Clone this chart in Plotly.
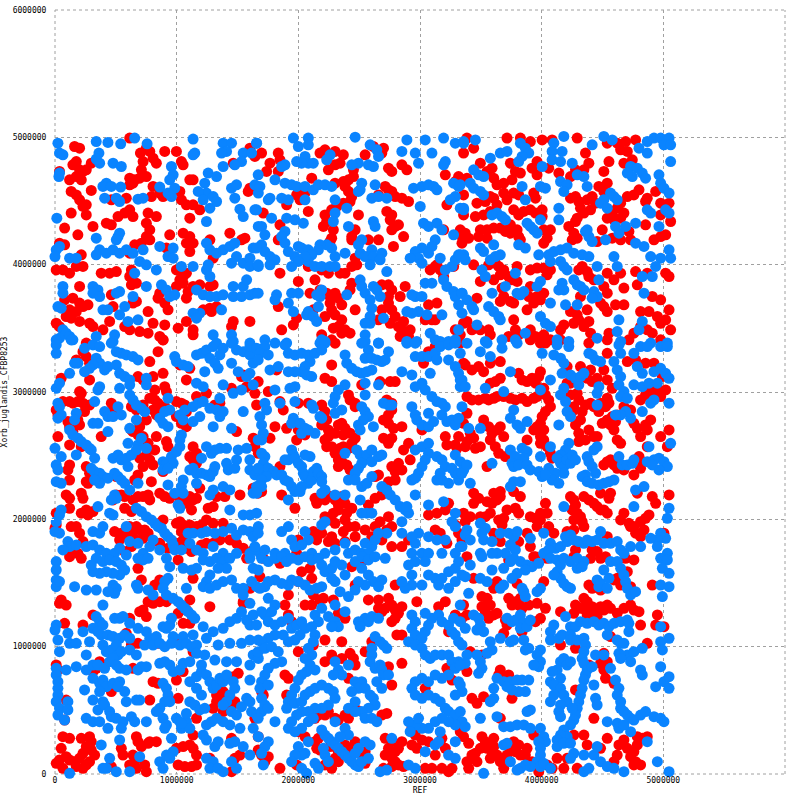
import plotly.graph_objects as go

# hit positions in kb: (REF, Xorb_juglandis_CFBP8253)
# forward hits (red) in three bands
fwd_top = [
    (161,4928),(202,4915),(614,4994),(702,4876),(751,4915),(779,4889),(806,4836),(833,4797),(902,4889),(998,4889),
    (1039,4810),(1053,4784),(1108,4666),(1135,4666),(724,4810),(710,4745),(298,4797),(175,4810),(147,4784),(202,4745),
    (230,4732),(257,4745),(175,4692),(120,4666),(37,4732),(216,4666),(133,4575),(175,4548),(202,4509),(257,4470),
    (298,4583),(230,4457),(614,4679),(655,4666),(696,4679),(751,4692),(614,4627),(641,4640),(792,4535),(861,4562),
    (888,4535),(806,4614),(1026,4575),(1039,4509),(1080,4470),(1135,4470),(586,4522),(463,4509),(614,4431),(573,4405),
    (641,4378),(518,4378),(765,4405),(833,4378),(751,4326),(779,4274),(751,4221),(710,4169),(655,4156),(614,4090),
    (779,4195),(133,4405),(257,4391),(463,4313),(312,4300),(79,4287),(188,4234),(422,4326),(37,4169),(79,4156),
    (216,4077),(943,4234),(916,4130),(1053,4247),(1108,4221),(1080,4169),(1135,4169),(1108,4103),(1190,4431),(1108,4365),
    (1273,4195),(1300,4051),(1437,4247),(1533,4195),(1561,4208),(1602,4601),(1588,4575),(1643,4850),(1602,4915),(1465,4797),
    (10,3959),(65,3959),(120,3933),(175,3986),(230,3986),(380,3933),(449,3933),(504,3946),(628,3959),(614,3907),
    (628,3842),(669,3855),(998,3959),(1053,3907),(1053,3855),(1080,3933),(998,3829),(1026,3881),(202,3829),(861,3776),
    (902,3698),(929,3645),(847,3737),(1094,3789),(1135,3829),(1080,3737),(1190,3842),(1273,3829),(1300,3842),(79,3724),
    (147,3737),(202,3698),(230,3671),(271,3685),(120,3645),(175,3632),(92,3593),(133,3580),(463,3763),(477,3671),
    (641,3698),(669,3711),(765,3632),(1218,3645),(1273,3658),(1328,3671),(1286,3632),(10,3540),(37,3514),(202,3554),
    (284,3540),(312,3514),(449,3554),(573,3514),(614,3488),(696,3475),(765,3462),(806,3540),(902,3527),(1012,3501),
    (861,3436),(888,3410),(1080,3554),(1135,3488),(1135,3449),(1465,3554),(1451,3514),(1602,3554),(394,3488),(257,3384),
    (1835,4876),(1849,4823),(1767,4797),(1739,4732),(1835,4732),(1698,4876),(2178,4876),(2219,4902),(2302,4889),(2370,4863),
    (2343,4797),(2302,4784),(2247,4745),(2549,4863),(2617,4928),(2700,4915),(2686,4876),(2453,4745),(2453,4692),(2412,4666),
    (2370,4653),(2302,4640),(2741,4758),(2768,4732),(2851,4784),(2892,4745),(2110,4679),(2000,4575),(1986,4548),(2014,4509),
    (2055,4562),(1904,4470),(2384,4614),(2412,4575),(2439,4535),(2425,4496),(2398,4457),(2370,4483),(2316,4457),(2274,4431),
    (2219,4391),(2233,4339),(2206,4300),(2288,4274),(2494,4391),(2467,4274),(2439,4221),(2714,4614),(2741,4588),(2768,4575),
    (2796,4535),(2851,4522),(2906,4496),(2659,4548),(2727,4418),(2768,4391),(2755,4352),(2796,4300),(2823,4313),(2768,4274),
    (2865,4221),(2782,4143),(2082,4418),(1849,4313),(1712,4405),(1835,4195),(2274,4208),(2261,4182),(2439,4195),(2467,4051),
    (2480,3999),(2439,3986),(2384,3933),(2343,3933),(2247,3933),(2192,3959),(2082,3986),(2576,4195),(2659,4195),(2576,4064),
    (2837,3750),(2878,3829),(2741,3842),(2768,3802),(2741,3750),(2741,3698),(2768,3645),(2796,3593),(2755,3540),(2823,3514),
    (2851,3488),(2837,3436),(2686,3842),(2686,3645),(2659,3567),(3208,4706),(3317,4692),(3290,4653),(3221,4470),(3194,4274),
    (3345,4221),(3331,4274),(3139,3999),(3125,3986),(3166,3959),(3084,3959),(3194,3907),(3276,3986),(1849,3933),(2000,3868),
    (2137,3881),(2178,3802),(2233,3776),(2261,3750),(2302,3776),(2329,3737),(2261,3698),(2274,3645),(2302,3606),(2357,3685),
    (2439,3855),(2425,3802),(2467,3645),(2357,3567),(2384,3488),(2425,3462),(2357,3462),(2329,3514),(2288,3501),(2219,3593),
    (2096,3776),(2123,3645),(1835,3671),(1986,3580),(1959,3527),(1863,3488),(2274,3410),(2192,3449),(2192,3384),(3070,3685),
    (3139,3698),(3043,3567),(3098,3567),(3125,3567),(2865,3554),(2919,3488),(2906,3436),(3331,3449),(3290,3488),(3331,3384),
    (3358,4876),(3441,4915),(3386,4994),(3715,4994),(3825,4994),(3907,4967),(4004,4980),(4086,4980),(4292,4994),(4360,4876),
    (4388,4797),(4347,4745),(4278,4745),(4237,4692),(4141,4719),(4058,4758),(3962,4810),(3921,4758),(3962,4706),(3743,4797),
    (3784,4732),(3756,4666),(3825,4719),(3551,4732),(3592,4758),(3606,4679),(3688,4640),(3633,4627),(3688,4562),(3715,4509),
    (3770,4562),(3811,4548),(3935,4562),(3949,4522),(3496,4797),(3386,4679),(3358,4548),(4553,4810),(4539,4954),(4621,4954),
    (4690,4967),(4649,4902),(4704,4889),(4772,4980),(4676,4797),(4745,4823),(4511,4732),(4470,4614),(4511,4575),(4539,4640),
    (4237,4522),(4278,4535),(4305,4496),(4319,4444),(4374,4509),(4415,4535),(4443,4483),(4402,4431),(4347,4405),(4292,4365),
    (4278,4339),(4223,4300),(4264,4247),(4292,4208),(4251,4195),(4621,4444),(4649,4483),(4676,4405),(4649,4365),(4594,4352),
    (4580,4391),(4704,4535),(4758,4548),(4800,4588),(4854,4496),(4868,4522),(4937,4575),(5047,4483),(4978,4483),(3468,4483),
    (3537,4496),(3578,4535),(3606,4522),(3633,4470),(3578,4418),(3523,4391),(3455,4378),(3358,4391),(3770,4431),(3811,4391),
    (3853,4418),(3907,4431),(3949,4405),(4004,4431),(4004,4378),(3743,4313),(3798,4274),(3743,4247),(3811,4221),(3825,4195),
    (3702,4261),(3660,4287),(3606,4287),(3551,4274),(3551,4208),(3496,4274),(3372,4247),(3400,4208),(3345,4169),(3482,4221),
    (4017,4274),(4072,4274),(4045,4208),(4017,4169),(4717,4261),(4731,4195),(4649,4195),(4580,4208),(4456,4182),(4854,4313),
    (4923,4195),(4978,4221),(5019,4234),(5060,4339),(4978,4391),(4539,4365),(4498,4274),(3441,3999),(3564,3999),(3619,4012),
    (3647,3986),(3688,3959),(3729,3907),(3756,3881),(3660,3920),(3606,3881),(3798,3986),(3907,3959),(3962,3973),(4017,3973),
    (4072,3959),(4045,3920),(3907,3829),(3962,3750),(4017,3776),(3798,3868),(4305,3959),(4333,3986),(4374,3946),(4388,3907),
    (4429,3881),(4511,3829),(4539,3933),(4594,3881),(4649,3933),(4676,3816),(4539,3776),(4484,3698),(4511,3671),(4539,3632),
    (4607,3685),(4676,3685),(4374,3645),(4388,3554),(4347,3514),(4305,3567),(4292,3606),(4264,3540),(4772,3946),(4868,3933),
    (4786,3842),(5019,3933),(5047,3907),(4909,3750),(4978,3724),(5047,3645),(4813,3632),(4882,3632),(4951,3593),(4978,3540),
    (5019,3567),(4868,3488),(4813,3514),(5060,3488),(3358,3540),(3386,3554),(3427,3488),(3496,3488),(3564,3488),(3578,3449),
    (3770,3567),(3784,3488),(3811,3449),(3729,3436),(3894,3750),(3935,3698),(3990,3724),(3880,3645),(3907,3488),(3949,3436),
    (3907,3410),(4017,3449),(4072,3410),(4031,3384),(4155,3488),(4182,3527),(4155,3410),(4237,3632),(4319,3750),(3660,3711),
    (3688,3750),(3770,3698),(3743,3711),(3674,3816),(3496,3868),(3468,3737),(4402,3462),(4539,3410),(4553,3462),(4717,3410),
    (4758,3462),(4978,3410),(4909,3462),
]

fwd_mid = [
    (888,3409),(230,3317),(257,3278),(284,3226),(175,3252),(779,3239),(847,3317),(284,3095),(51,3108),(202,3003),
    (216,2990),(682,3121),(724,3095),(806,3121),(888,3147),(902,3042),(916,3003),(820,3016),(1080,3095),(1026,3213),
    (1108,3186),(1533,3121),(1547,3134),(1575,3042),(1643,2990),(1451,3029),(65,2925),(120,2925),(147,2912),(188,2925),
    (230,2912),(284,2898),(10,2859),(24,2820),(243,2846),(463,2912),(477,2859),(628,2885),(669,2859),(724,2898),
    (779,2951),(820,2938),(847,2912),(875,2885),(902,2885),(806,2859),(833,2820),(751,2781),(696,2728),(998,2925),
    (1039,2912),(1067,2898),(1080,2846),(998,2807),(1039,2754),(1080,2728),(1163,2964),(1245,2990),(1314,2898),(1355,2912),
    (1657,2898),(106,2768),(120,2728),(147,2689),(188,2781),(202,2741),(380,2650),(24,2650),(120,2584),(216,2571),
    (628,2702),(641,2689),(682,2663),(724,2650),(765,2597),(833,2650),(820,2545),(916,2611),(929,2571),(696,2480),
    (724,2414),(751,2506),(779,2467),(806,2427),(1492,2689),(1629,2637),(1643,2571),(1671,2519),(1135,2571),(1163,2519),
    (1108,2493),(1135,2467),(1163,2440),(120,2427),(106,2388),(257,2414),(284,2362),(120,2309),(655,2309),(682,2349),
    (257,2296),(271,2283),(504,2336),(792,2296),(888,2375),(92,2192),(120,2165),(216,2205),(230,2165),(120,2087),
    (216,2048),(271,2035),(257,2074),(312,2061),(477,2152),(504,2192),(545,2192),(573,2179),(641,2152),(682,2179),
    (724,2179),(765,2192),(779,2152),(861,2205),(902,2179),(943,2165),(1026,2165),(1080,2126),(1108,2179),(1135,2152),
    (1163,2165),(1122,2074),(1190,2244),(1259,2087),(1300,2100),(1328,2179),(1396,2179),(1520,2192),(1629,2244),(1671,2257),
    (573,2087),(628,2061),(10,2048),(0,1930),(10,1956),(133,1943),(175,1943),(230,1825),(202,1891),(120,1733),
    (188,1733),(490,1904),(545,1891),(573,1904),(586,1864),(614,1943),(641,1904),(669,1943),(696,1917),(737,1917),
    (765,1891),(724,1851),(531,1838),(669,1838),(628,1786),(573,1747),(861,1969),(888,1995),(998,1969),(1026,1982),
    (1053,1956),(1039,1904),(1080,1930),(1108,1956),(1163,1943),(1204,1956),(1245,1995),(1300,1969),(1382,1969),(1053,1838),
    (998,1812),(929,1773),(861,1812),(1080,1773),(1122,1747),(1204,1799),(1245,1812),(1300,1812),(1355,1838),(1437,1838),
    (1492,1812),(1547,1773),(1629,1760),
    (2302,3383),(1821,3173),(1670,3082),(1753,3003),(1849,2925),(1876,2859),(2000,2912),(2082,2912),(2192,2898),(2219,2846),
    (2233,2781),(2192,2741),(2247,2702),(2329,2741),(2357,2754),(2384,2715),(2302,2676),(2247,2650),(2219,2624),(2370,2663),
    (2425,2676),(2467,2637),(2439,2597),(2412,2558),(2370,2571),(2274,2571),(2233,2571),(2343,2558),(2412,2977),(2425,2938),
    (2467,2912),(2467,2885),(2302,2519),(2329,2467),(2329,2414),(2357,2453),(2398,2427),(2425,2388),(2274,3213),(2219,3108),
    (2274,3082),(2521,3056),(2672,3082),(2755,3082),(2796,3082),(2727,2938),(2768,2912),(2768,2859),(2741,2820),(2700,2781),
    (2741,2754),(2782,2715),(2851,2728),(2700,2637),(2768,2637),(2741,2597),(2906,2597),(2865,2545),(2919,2467),(2823,2440),
    (2768,2414),(2796,2375),(2851,2388),(2796,2309),(2741,2296),(2631,2336),(2659,2349),(3016,2702),(3208,2650),(3221,2584),
    (3290,2584),(3304,2558),(3317,2650),(3372,2571),(2000,2702),(2055,2663),(1986,2624),(1904,2715),(1808,2728),(1767,2637),
    (1849,2414),(1698,2218),(1670,2205),(1767,2375),(1863,2192),(1972,2087),(2219,2192),(2137,2165),(2151,2126),(2219,2152),
    (2261,2179),(2302,2152),(2329,2113),(2357,2179),(2384,2126),(2329,2074),(2288,2048),(2398,2048),(2439,2087),(2384,1995),
    (2302,1969),(2261,1995),(2219,2021),(2412,1943),(2467,1943),(2370,1904),(2576,2113),(2631,2165),(2686,2192),(2741,2021),
    (2672,1982),(2631,1943),(2604,1864),(2686,1838),(2727,1917),(2768,1943),(2549,1917),(3070,2035),(3139,2048),(3208,2074),
    (3235,2126),(3125,1917),(3166,1891),(3290,1956),(3317,1891),(3345,1838),(3221,1812),(2192,1891),(2151,1838),(2123,1904),
    (2000,1838),(1986,1733),(2274,1864),(2302,1812),(2384,1825),(2467,1864),(2247,1825),(2768,1786),(2851,1786),(2906,1838),
    (1643,2362),(1670,2257),(1643,1891),(3125,3357),(3070,3317),(3029,3226),(3372,3213),
    (3358,3226),(3427,3173),(3482,3200),(3523,3160),(3578,3226),(3660,3239),(3811,3147),(3839,3095),(3880,3082),(3921,3108),
    (3976,3121),(3990,3160),(3949,3069),(3660,3108),(3619,3082),(3578,3069),(4017,3029),(4031,2977),(4058,2938),(4072,2885),
    (4031,2846),(4004,2807),(3990,2754),(4017,2702),(3990,2650),(4017,2624),(4045,2571),(4072,2519),(4086,2480),(4237,3069),
    (4209,3069),(4237,2977),(4292,2990),(4305,2938),(4264,2885),(4251,2846),(4319,2781),(4278,2741),(4305,2676),(4388,2702),
    (4456,2650),(4360,2624),(4429,2650),(4305,2611),(4333,2846),(4360,2898),(4402,2912),(4429,2885),(4484,2912),(4525,2885),
    (4553,2912),(4539,2951),(4470,2846),(4498,2754),(4566,2741),(4594,2702),(4621,2624),(4649,2597),(4580,2807),(4621,2820),
    (4607,2768),(4539,2781),(4676,2885),(4731,2859),(4758,2754),(4786,2715),(4813,2650),(4868,2702),(4868,2571),(4978,2650),
    (5047,2702),(5033,2571),(4896,2781),(4854,2741),(4813,2938),(4854,2977),(4868,3016),(4896,3016),(4923,2990),(4964,3016),
    (4978,2964),(5019,3016),(4992,3121),(4923,3226),(4854,3226),(4772,3252),(4704,3239),(4539,3304),(4511,3173),(4456,3108),
    (4415,3082),(4374,3108),(4402,3173),(4319,3200),(4209,3200),(3990,3383),(4388,3383),(4539,3095),(4580,3029),(3386,2964),
    (3427,2938),(3482,2938),(3537,2951),(3564,2938),(3606,2951),(3633,2964),(3688,2964),(3743,2951),(3784,2938),(3839,2951),
    (3880,2925),(3935,2951),(3962,2964),(3386,2833),(3358,2754),(3413,2676),(3441,2637),(3386,2611),(3455,2558),(3496,2571),
    (3523,2781),(3564,2728),(3592,2676),(3633,2702),(3660,2728),(3688,2650),(3578,2624),(3619,2571),(3647,2519),(3702,2493),
    (3880,2624),(3935,2702),(3962,2728),(3990,2597),(4566,2467),(4539,2453),(4511,2427),(4594,2427),(4621,2401),(4676,2388),
    (4758,2349),(4800,2493),(4827,2453),(4813,2401),(3551,2414),(3441,2205),(3482,2165),(3441,2126),(3551,2139),(3592,2126),
    (3633,2152),(3660,2179),(3660,2218),(3606,2205),(3770,2218),(3825,2179),(3784,2087),(3811,2048),(3715,2074),(3358,2048),
    (3372,1982),(3413,2021),(3496,2021),(3537,2021),(3578,2048),(3647,1995),(3674,1956),(3688,2008),(3907,2021),(3949,2008),
    (3990,1995),(3990,2048),(4045,2048),(4058,1943),(3962,1943),(4031,2126),(4237,2179),(4264,2152),(4278,2113),(4251,2074),
    (4292,2048),(4319,2021),(4333,1982),(4347,1943),(4264,1917),(4347,2179),(4388,2152),(4429,2126),(4456,2100),(4484,2074),
    (4511,2074),(4539,2048),(4553,2165),(4484,2205),(4566,2205),(4264,1995),(4676,2048),(4649,1995),(4717,1969),(4758,1943),
    (4813,1982),(4854,2008),(4882,2035),(4841,1917),(4772,1891),(4813,1864),(5005,1891),(5047,2192),(4937,2126),(4909,2179),
    (4786,2205),(4731,1943),(3606,1891),(3660,1825),(3880,1891),(3907,1786),(3811,1825),(4209,1904),(4100,1891),(4539,1864),
    (4415,1760),(4456,1747),(4278,1760),(3935,1707),
]

fwd_bot = [
    (120,1707),(216,1694),(682,1615),(710,1524),(820,1484),(861,1524),(1135,1537),(1012,1681),(1602,1458),(1547,1353),
    (37,1340),(92,1327),(51,1367),(312,1249),(230,1170),(79,1183),(765,1353),(806,1340),(861,1353),(916,1353),
    (724,1288),(696,1275),(751,1236),(1012,1262),(1080,1288),(1108,1367),(1053,1183),(1108,1183),(614,1223),(628,1013),
    (682,1026),(586,1105),(847,1026),(1012,1052),(1135,961),(1273,1314),(1547,1340),(367,882),(339,830),(312,804),
    (10,856),(24,817),(641,830),(806,725),(847,712),(998,738),(1053,804),(1506,791),(1465,764),(92,581),
    (79,424),(463,647),(779,581),(1012,594),(1163,437),(1328,620),(1355,594),(1382,647),(1328,568),(1300,516),
    (1382,490),(1451,529),(1478,568),(65,293),(51,202),(120,280),(216,280),(284,293),(298,254),(257,215),
    (230,162),(202,123),(161,97),(120,110),(92,136),(37,110),(10,84),(65,45),(175,58),(230,45),
    (257,71),(284,97),(326,149),(298,188),(463,58),(545,202),(669,293),(682,254),(710,215),(765,241),
    (779,254),(833,254),(641,149),(655,97),(614,71),(669,45),(737,71),(751,18),(559,149),(998,202),
    (1053,215),(1108,228),(1135,202),(1163,149),(1012,71),(1067,58),(1122,58),(1163,71),(1135,306),(1451,280),
    (1478,123),(1520,149),(1451,18),(1273,123),(1575,1694),(1712,1694),
    (1849,1655),(1684,1550),(1918,1406),(1890,1327),(1918,1249),(1945,1196),(2110,1537),(2096,1615),(2027,1589),(2000,1511),
    (2123,1406),(2055,1327),(2110,1327),(2178,1367),(2206,1380),(2288,1367),(2329,1262),(2384,1223),(2439,1628),(2467,1484),
    (2521,1668),(2576,1367),(2659,1367),(2714,1301),(2741,1380),(2768,1327),(2796,1288),(2823,1262),(2851,1314),(2796,1223),
    (2768,1196),(2686,1275),(2659,1301),(2480,1655),(2796,1484),(2810,1092),(2851,1092),(2974,1353),(3153,1314),(3208,1353),
    (3235,1118),(3290,1249),(3345,1223),(2000,961),(2123,1013),(2219,1052),(2357,1039),(2425,948),(2453,908),(2219,882),
    (2274,935),(2357,908),(2467,856),(2412,751),(2549,961),(2604,1039),(2741,843),(2768,699),(2851,869),(2686,463),
    (2727,476),(1918,751),(1890,778),(1698,647),(1712,620),(1904,620),(3221,830),(3263,738),(3345,856),(3043,673),
    (1643,437),(1670,293),(2137,437),(2165,463),(2219,463),(2247,490),(2302,437),(2329,424),(2384,463),(2412,437),
    (2480,503),(2000,332),(2055,293),(2137,254),(2165,280),(2151,202),(2178,188),(2261,215),(2302,215),(2329,175),
    (2384,228),(2412,202),(2439,149),(2467,254),(2549,175),(2302,123),(2247,84),(2219,71),(2274,45),(2329,97),
    (2521,149),(2549,84),(1670,188),(1698,149),(1753,136),(1725,97),(1849,45),(1986,71),(2714,280),(2768,254),
    (2741,202),(2714,149),(2768,123),(2796,175),(2823,202),(2851,254),(2796,97),(2823,71),(2865,58),(2768,58),
    (2700,45),(2933,359),(2961,306),(2933,228),(2974,202),(3016,267),(3070,254),(3180,280),(3208,202),(3125,149),
    (3043,45),(3098,45),(3180,45),(3235,18),(3263,45),
    (3386,1707),(3729,1681),(3949,1707),(4045,1694),(4264,1707),(4402,1694),(4484,1694),(4525,1707),(4690,1694),(4758,1681),
    (4704,1589),(4594,1524),(4388,1484),(4415,1458),(4484,1445),(4649,1484),(4731,1471),(4909,1484),(4621,1537),(3441,1537),
    (3633,1511),(3606,1458),(3798,1497),(4017,1511),(3358,1327),(3386,1249),(3509,1393),(3551,1380),(3509,1314),(3578,1327),
    (3537,1275),(3606,1249),(3564,1223),(3633,1262),(3729,1380),(3784,1353),(3756,1327),(3811,1327),(3839,1301),(3825,1380),
    (3894,1327),(3962,1340),(3990,1223),(4031,1301),(3949,1196),(3702,1209),(3715,1170),(3688,1105),(3839,1118),(4155,1275),
    (4264,1262),(4278,1327),(4319,1301),(4347,1380),(4374,1353),(4360,1288),(4374,1249),(4415,1314),(4429,1275),(4456,1236),
    (4484,1314),(4511,1288),(4539,1327),(4566,1301),(4621,1262),(4676,1301),(4731,1327),(4758,1288),(4800,1275),(4813,1170),
    (4951,1249),(4937,1170),(5005,1157),(4868,1026),(4566,1079),(4278,987),(4155,1013),(4511,948),(4484,869),(4539,882),
    (4511,817),(4525,751),(4594,712),(4388,856),(3413,961),(3386,804),(3509,935),(3660,817),(3647,778),(3674,751),
    (3729,778),(3756,594),(3523,607),(3468,555),(3427,594),(3660,437),(4278,660),(4429,437),(4539,280),(4676,267),
    (4635,228),(4704,202),(4786,293),(4827,280),(4868,293),(4786,228),(4758,175),(4731,136),(4772,97),(4813,71),
    (4621,149),(4594,97),(4264,306),(3935,306),(4347,306),(4484,202),(4374,228),(3331,332),(3358,293),(3400,241),
    (3427,149),(3386,97),(3400,45),(3455,162),(3496,202),(3509,293),(3537,254),(3551,202),(3592,175),(3578,123),
    (3606,215),(3633,149),(3660,97),(3715,149),(3743,202),(3784,175),(3825,149),(3866,149),(3880,202),(3811,228),
    (3770,254),(3606,280),(3688,45),(3468,97),(3921,97),(3976,18),(4045,71),(4086,45),(4209,123),(4182,45),
    (4292,45),(4127,123),(4758,71),
]

# reverse hits (blue)
rev_top = [
    (24,4954),(37,4876),(65,4863),(37,4719),(32,4692),(339,4967),(435,4960),(540,4949),(655,4994),(757,4949),
    (361,4876),(367,4797),(339,4829),(477,4797),(545,4771),(422,4640),(394,4614),(463,4614),(540,4609),(408,4522),
    (504,4522),(531,4496),(682,4514),(724,4522),(861,4609),(957,4771),(971,4706),(943,4666),(984,4601),(957,4535),
    (929,4562),(1135,4986),(1149,4876),(1135,4863),(1382,4954),(1451,4954),(1410,4889),(1369,4876),(1547,4876),(1616,4876),
    (1657,4954),(1533,4810),(1478,4784),(1259,4719),(1328,4692),(1382,4771),(1231,4640),(1245,4562),(1177,4575),(1300,4535),
    (1218,4509),(1273,4444),(1328,4496),(1451,4601),(1492,4627),(1643,4627),(1671,4562),(1478,4522),(1520,4436),(1547,4378),
    (1643,4431),(1245,4339),(1671,4300),(15,4365),(339,4208),(518,4221),(531,4247),(504,4195),(10,4117),(37,4143),
    (0,4064),(120,4051),(175,4051),(367,4117),(339,4077),(422,4090),(477,4117),(531,4090),(586,4117),(641,4090),
    (724,4117),(861,4143),(971,4130),(929,4064),(971,4051),(1245,4169),(1273,4117),(1328,4090),(1382,4117),(1437,4143),
    (1478,4169),(1492,4064),(1451,4012),(1547,4012),(1602,4051),(1629,4130),(1602,3986),(1671,3986),(696,4025),(751,3999),
    (655,3933),(833,3959),(875,3842),(916,3802),(943,3750),(984,3763),(1039,3986),(1135,3986),(1245,3959),(1273,3907),
    (1259,3999),(1163,3802),(1218,3763),(1273,3750),(1328,3750),(1382,3763),(1465,3750),(1533,3750),(1602,3763),(1643,3776),
    (1547,3829),(1575,3881),(1465,3829),(65,3829),(65,3776),(312,3829),(353,3802),(312,3776),(367,3750),(504,3776),
    (531,3789),(24,3671),(51,3658),(641,3750),(394,3645),(435,3645),(573,3671),(531,3606),(682,3567),(600,3554),
    (1190,3619),(1135,3619),(1163,3580),(65,3488),(92,3462),(120,3436),(147,3410),(37,3423),(10,3410),(339,3436),
    (490,3449),(477,3397),(1300,3449),(1451,3449),(1465,3397),(1602,3384),(1369,3645),(751,3829),
    (1959,4994),(2082,4994),(2082,4941),(2000,4928),(1657,4954),(2467,5001),(2590,4941),(2645,4902),(2659,4850),(2576,4784),
    (2617,4771),(2494,4797),(2439,4784),(2055,4850),(2082,4797),(2123,4797),(2027,4797),(1986,4810),(1890,4784),(1863,4771),
    (2261,4863),(2233,4823),(1670,4706),(1684,4614),(1808,4666),(1890,4640),(1945,4627),(1986,4614),(2055,4614),(2123,4588),
    (2165,4627),(2219,4627),(2274,4614),(1767,4522),(1753,4509),(1863,4522),(1918,4509),(2055,4509),(2302,4509),(2521,4640),
    (2508,4588),(2494,4575),(2604,4522),(2659,4535),(2727,4522),(2631,4627),(2851,4889),(2961,4876),(2988,4797),(2892,4980),
    (3043,4980),(3098,4876),(3194,4994),(3290,4954),(3359,4954),(3208,4810),(3194,4784),(2947,4601),(3016,4614),(3070,4627),
    (3112,4614),(3139,4588),(3276,4640),(3317,4614),(3290,4535),(3249,4509),(3331,4444),(3359,4431),(3002,4457),(1657,4431),
    (1780,4365),(1904,4365),(1972,4352),(2041,4326),(1698,4300),(1725,4234),(1890,4261),(1863,4221),(1890,4169),(2302,4405),
    (2288,4339),(2398,4444),(2412,4300),(2617,4339),(2631,4300),(2521,4195),(2494,4156),(2508,4090),(2549,4064),(2604,4117),
    (2617,4064),(2590,3999),(2686,4090),(2672,4038),(2384,4090),(2274,4130),(2302,4064),(2233,4156),(2178,4156),(2165,4117),
    (2000,4143),(2027,4130),(2082,4117),(2110,4077),(2082,4025),(2137,3986),(2192,3986),(2261,3986),(2302,3986),(2055,4064),
    (1972,4064),(2000,4025),(1945,3986),(1698,4156),(1725,4103),(1767,4064),(1808,4038),(1767,3999),(1670,3999),(1657,4130),
    (1918,4103),(3029,4326),(3070,4300),(3139,4326),(3180,4274),(3276,4234),(3125,4195),(3098,4143),(3016,4130),(2961,4103),
    (2988,4051),(3016,4012),(3070,4090),(3166,4051),(3290,4038),(3317,4077),(3359,4077),(3263,3986),(3208,3959),(2919,4051),
    (3043,3855),(3098,3855),(3194,3881),(3221,3829),(3276,3789),(3290,3750),(3345,3776),(3317,3685),(3345,3619),(3180,3606),
    (3057,3606),(2988,3632),(2933,3619),(2892,3632),(2961,3750),(2933,3763),(3016,3750),(1670,3776),(1821,3763),(1945,3776),
    (2000,3776),(1808,3724),(1918,3698),(1959,3632),(2082,3632),(2068,3606),(2123,3593),(2165,3671),(2178,3750),(2192,3802),
    (2151,3763),(2398,3763),(2508,3881),(2521,3829),(2549,3776),(2590,3724),(2604,3658),(2590,3593),(2590,3540),(2549,3540),
    (2617,3829),(2645,3802),(2672,3750),(2700,3580),(2727,3946),(2151,3554),(1725,3410),(1904,3384),(1808,3384),(2192,3410),
    (2219,3384),(2549,3449),(2549,3397),(2659,3384),(2892,3397),(2974,3397),(3125,3410),(3166,3397),(3235,3397),(3290,3410),
    (3084,3462),(3317,3488),
    (3358,4967),(3455,4980),(3660,4876),(3715,4889),(3825,4954),(3866,4915),(3894,4876),(3839,4850),(3811,4810),(3578,4836),
    (4100,4954),(4182,5007),(4168,4889),(4086,4889),(4086,4823),(4155,4810),(4251,4797),(4415,4941),(4511,5007),(4580,4980),
    (4868,4967),(4923,4994),(4978,4994),(5047,4994),(5005,4941),(5060,4941),(4800,4915),(4868,4876),(5060,4810),(4731,4771),
    (4786,4758),(4827,4719),(4854,4679),(4745,4692),(4704,4719),(4964,4706),(4978,4640),(5005,4601),(5047,4562),(3441,4745),
    (3482,4706),(3523,4692),(3413,4640),(3441,4601),(3496,4575),(3523,4548),(3331,4627),(4004,4771),(3990,4614),(4031,4601),
    (4155,4653),(4209,4627),(4182,4575),(4292,4706),(4347,4692),(4374,4614),(3839,4614),(3866,4509),(4511,4509),(4566,4562),
    (4594,4535),(4621,4509),(4484,4483),(4539,4444),(4868,4431),(4896,4405),(5019,4431),(5047,4405),(3358,4444),(3592,4391),
    (3633,4405),(3674,4378),(3702,4352),(3990,4352),(4141,4352),(3907,4300),(3935,4274),(3962,4247),(3880,4326),(4141,4444),
    (4360,4261),(4388,4221),(4415,4182),(4374,4274),(4607,4300),(4635,4247),(4690,4300),(4772,4326),(4772,4169),(4841,4143),
    (4964,4300),(4525,4195),(3496,4130),(3523,4103),(3606,4156),(3811,4156),(3866,4130),(3331,4077),(3372,4038),(3578,4038),
    (3619,4064),(3660,4077),(3976,4077),(4058,4077),(4100,4103),(4155,4117),(4209,4130),(4264,4090),(4333,4077),(4388,4064),
    (4072,4025),(4155,4025),(4182,3986),(4209,3959),(4896,4064),(4978,4051),(5060,4051),(5047,4117),(4937,3986),(4594,4064),
    (4621,3986),(4456,3986),(3509,3959),(3537,3907),(3784,3933),(3990,3868),(3962,3829),(3853,3789),(3702,3829),(3798,3776),
    (3825,3763),(3592,3776),(4168,3855),(4182,3802),(4141,3802),(4264,3881),(4292,3842),(4319,3829),(4347,3802),(4429,3789),
    (4456,3750),(4415,3737),(4470,3881),(4827,3907),(4909,3907),(4841,3776),(3345,3776),(3386,3724),(3427,3671),(3441,3645),
    (3564,3671),(3606,3632),(3647,3593),(3660,3567),(3990,3593),(4031,3540),(4072,3514),(4072,3698),(4196,3685),(4292,3685),
    (4635,3567),(4827,3554),(4621,3475),(4800,3488),(3468,3527),(3537,3397),(3674,3410),(3784,3410),(3866,3462),(4127,3410),
    (4223,3397),(4456,3423),(4649,3397),(4896,3384),(5033,3384),
]

rev_mid = [
    (10,3370),(10,3304),(133,3409),(243,3344),(312,3370),(367,3357),(463,3383),(504,3317),(545,3304),(586,3291),
    (641,3278),(682,3252),(339,3265),(367,3226),(312,3213),(284,3186),(243,3160),(188,3226),(161,3226),(408,3173),
    (435,3200),(504,3213),(531,3147),(573,3121),(614,3095),(614,3056),(531,3029),(367,3042),(353,3016),(10,3029),
    (37,3069),(120,3147),(751,3056),(751,3108),(984,3278),(998,3239),(1053,3213),(1094,3200),(1163,3291),(1204,3304),
    (1245,3330),(1300,3357),(1328,3383),(1382,3344),(1355,3291),(1273,3265),(1314,3226),(1341,3186),(1451,3383),(1492,3330),
    (1547,3317),(1602,3291),(1602,3357),(1657,3344),(1629,3226),(1602,3147),(1575,3121),(1506,3160),(1451,3226),(1629,3056),
    (1231,3160),(1163,3069),(1218,3042),(1382,3056),(1465,2990),(1533,3016),(24,2912),(37,2885),(51,2820),(24,2794),
    (175,2833),(161,2781),(326,2925),(408,2846),(435,2807),(477,2807),(518,2885),(545,2820),(312,2754),(353,2754),
    (435,2689),(614,2977),(641,2938),(669,2898),(710,2872),(737,2846),(669,2781),(614,2715),(861,2794),(902,2846),
    (929,2951),(943,2859),(888,2754),(929,2728),(1026,2820),(1067,2859),(1135,2885),(1177,2912),(1218,2925),(1053,2781),
    (1135,2768),(1190,2807),(1273,2872),(1328,2859),(1355,2807),(1300,2728),(1355,2951),(1382,2846),(1547,2846),(1451,2715),
    (120,2702),(147,2663),(188,2637),(216,2611),(257,2584),(284,2558),(298,2545),(0,2558),(51,2493),(175,2506),
    (477,2480),(518,2506),(545,2467),(586,2480),(628,2506),(600,2414),(600,2597),(682,2584),(751,2558),(669,2545),
    (710,2637),(326,2480),(298,2401),(326,2375),(367,2362),(394,2336),(435,2323),(490,2362),(518,2336),(545,2309),
    (573,2283),(367,2283),(326,2309),(10,2427),(24,2388),(10,2296),(51,2283),(888,2453),(916,2440),(957,2493),
    (998,2532),(1026,2571),(971,2440),(1039,2663),(1026,2624),(888,2388),(929,2401),(1108,2388),(1135,2401),(1163,2362),
    (1204,2362),(1245,2349),(1273,2336),(1300,2375),(1314,2414),(1286,2519),(1314,2545),(1355,2558),(1410,2558),(1245,2571),
    (1204,2480),(1410,2440),(1424,2388),(1478,2401),(1492,2467),(1506,2545),(1575,2558),(1602,2467),(1602,2388),(1643,2349),
    (1684,2362),(1657,2257),(1629,2205),(1382,2257),(1437,2231),(1163,2283),(1053,2309),(1039,2257),(1053,2205),(984,2205),
    (929,2270),(1273,2192),(1300,2231),(682,2283),(614,2231),(490,2192),(504,2165),(463,2152),(1012,2113),(1026,2087),
    (353,2100),(449,2048),(477,2035),(1437,2074),(1547,2035),(1602,2035),(1657,2048),(51,2074),(37,2035),(10,1982),
    (669,2087),(710,2061),(751,2021),(792,1995),(820,1969),(847,1943),(875,1930),(902,1891),(929,1864),(957,1838),
    (971,1799),(984,1760),(1094,1891),(1135,1891),(1204,1891),(1245,1904),(1314,1891),(1382,1904),(1451,1930),(1492,1877),
    (1547,1917),(1602,1904),(1629,1864),(1671,1943),(0,1904),(37,1891),(106,1825),(120,1786),(65,1760),(175,1799),
    (257,1786),(312,1799),(367,1760),(422,1733),(490,1733),(531,1773),(586,1720),(312,1904),(367,1891),(394,1943),
    (614,1825),(682,1812),(724,1733),(779,1786),(806,1838),(861,1760),(1039,1760),(1108,1812),(1163,1760),(1218,1733),
    (1300,1786),(1382,1733),(1492,1733),(1602,1733),(1684,1733),(586,1943),
    (1725,3357),(1684,3304),(1670,3252),(1753,3291),(1767,3173),(1835,3200),(1890,3370),(1918,3304),(1972,3291),(2027,3304),
    (2082,3291),(2137,3304),(2178,3383),(2219,3396),(2192,3330),(2096,3239),(2055,3200),(2027,3160),(1972,3160),(1918,3160),
    (2068,3134),(2110,3121),(1972,3042),(1931,3029),(1808,3016),(2384,3291),(2398,3226),(2439,3186),(2480,3160),(2521,3147),
    (2563,3160),(2604,3173),(2521,3383),(2576,3330),(2549,3265),(2604,3265),(2645,3252),(2686,3239),(2659,3383),(2741,3317),
    (2714,3252),(2892,3383),(2961,3383),(2851,3160),(2933,3134),(2961,3278),(3016,3278),(3070,3278),(3125,3304),(3139,3252),
    (3166,3357),(3235,3370),(3290,3383),(3235,3252),(3290,3200),(3317,3147),(3345,3095),(3331,3042),(3084,3147),(3016,3069),
    (2961,3042),(3043,3016),(2549,3069),(2659,3056),(2384,3056),(2329,3016),(2302,2964),(2288,2912),(2549,2977),(2741,2898),
    (2700,2912),(2768,2898),(1725,2912),(1739,2859),(1684,2807),(1698,2741),(1712,2676),(1698,2624),(1670,2624),(1849,2912),
    (1972,2925),(1959,2794),(1945,2754),(2014,2754),(2055,2715),(2110,2898),(2123,2872),(2178,2807),(2192,2794),(2137,2676),
    (2027,2676),(2082,2702),(2357,2859),(2302,2833),(2521,2885),(2549,2846),(2576,2807),(2535,2781),(2494,2741),(2508,2702),
    (2617,2728),(2933,2885),(2961,2820),(2974,2781),(3016,2741),(3070,2728),(3070,2833),(3098,2964),(3139,2925),(3180,2912),
    (3208,2885),(3180,2820),(3221,2768),(3263,2781),(3290,2741),(3317,2794),(3345,2885),(3112,2768),(2480,2545),(2508,2506),
    (2535,2480),(2563,2506),(2521,2440),(2494,2401),(2467,2362),(2604,2545),(2604,2453),(2659,2493),(2686,2506),(2384,2519),
    (1945,2545),(1959,2506),(1918,2467),(1890,2467),(1972,2480),(2000,2440),(2027,2414),(2041,2362),(2055,2336),(2082,2283),
    (2110,2309),(2123,2375),(2151,2401),(2165,2362),(2192,2336),(2192,2296),(2096,2493),(2055,2506),(1698,2519),(1725,2493),
    (1712,2440),(1753,2401),(1794,2375),(1821,2349),(1863,2349),(1890,2309),(1918,2296),(1945,2257),(1972,2218),(2014,2218),
    (2027,2257),(1739,2336),(1698,2309),(1698,2257),(1657,2205),(1670,2401),(2219,2231),(2302,2192),(2384,2192),(2412,2309),
    (2467,2309),(2521,2257),(2563,2283),(2604,2336),(2686,2257),(2727,2231),(2755,2192),(2796,2152),(2837,2100),(2878,2074),
    (2906,2048),(2851,1982),(2892,2100),(2961,2192),(2933,2309),(2961,2545),(3016,2571),(3070,2597),(3070,2519),(3043,2467),
    (3016,2414),(2988,2362),(2961,2323),(3139,2493),(3180,2467),(3208,2414),(3263,2401),(3290,2362),(3317,2309),(3235,2283),
    (3180,2309),(3139,2309),(3166,2362),(3290,2506),(3331,2453),(3359,2388),(3317,2362),(2192,2205),(1918,2152),(3070,2113),
    (3194,2139),(3290,2048),(3263,1982),(3290,1943),(2508,2152),(2521,2048),(2563,2048),(2604,2048),(3208,1838),(3139,1838),
    (3070,1864),(2988,1891),(2961,1812),(2933,1733),(3016,1733),(3070,1733),(3180,1733),(3290,1733),(3345,1786),(1918,1943),
    (1863,1904),(1945,1838),(1972,1786),(1890,1733),(1808,1733),(1725,1760),(1670,1891),(1643,1786),(2055,1904),(2082,1838),
    (2027,1799),(2192,1956),(2219,1982),(2110,1733),(2219,1733),(2302,1760),(2384,1812),(2412,1733),(2467,1760),(2521,1733),
    (2549,1812),(2604,1786),(2631,1838),(2576,1733),(2727,1891),(2659,1891),(2851,1891),(2933,1864),
    (3331,3304),(3386,3383),(3551,3383),(3674,3344),(3798,3383),(3496,3317),(3578,3278),(4004,3304),(4127,3370),(4223,3357),
    (4100,3291),(4155,3265),(4182,3226),(4168,3147),(4072,3095),(4237,3134),(4278,3108),(4305,3056),(4319,3121),(4347,3147),
    (4388,3304),(4415,3291),(4443,3252),(4484,3239),(4635,3370),(4649,3304),(4594,3239),(4621,3173),(4649,3121),(4635,3056),
    (4676,3003),(4649,2964),(4704,2951),(4758,3304),(4813,3357),(4868,3357),(4978,3357),(5033,3357),(4786,3200),(4827,3147),
    (4923,3160),(4978,3186),(5019,3147),(5047,3108),(4758,3056),(4827,3042),(4882,3069),(4951,3069),(5047,2912),(4923,2938),
    (4896,2912),(4827,2846),(4731,2794),(4690,2846),(4649,2820),(4607,2820),(3331,3095),(3372,3042),(3537,3029),(3688,3003),
    (3743,3160),(3990,3016),(4182,3029),(4155,2977),(4196,2925),(4209,2846),(4237,2807),(4141,2741),(4456,2898),(4470,3042),
    (4456,2990),(3770,2859),(3743,2794),(3798,2741),(3825,2715),(3880,2768),(3400,2715),(3496,2715),(3743,2545),(3839,2558),
    (3880,2532),(3853,2480),(3784,2493),(3756,2440),(3770,2414),(3811,2427),(3880,2427),(3907,2388),(3592,2440),(3345,2362),
    (3413,2283),(3386,2427),(3990,2493),(3976,2375),(4004,2336),(4072,2571),(4223,2597),(4196,2545),(4155,2506),(4127,2480),
    (4155,2440),(4182,2414),(4209,2467),(4237,2440),(4182,2362),(4113,2362),(4086,2309),(4141,2283),(4058,2401),(4031,2349),
    (4251,2506),(4278,2467),(4374,2493),(4388,2453),(4415,2414),(4429,2545),(4456,2571),(4443,2362),(4360,2349),(4333,2336),
    (4374,2296),(4415,2283),(4470,2270),(4511,2283),(4553,2296),(4594,2309),(4635,2493),(4662,2427),(4704,2427),(4745,2440),
    (4758,2467),(4868,2453),(4923,2467),(4964,2480),(5005,2453),(5033,2414),(4964,2388),(4909,2427),(4841,2257),(4772,2231),
    (4758,2100),(4882,2571),(5060,2597),(3770,2296),(3825,2296),(3743,2257),(4182,2100),(5047,2087),(5033,2008),(5019,1851),
    (4978,1891),(4951,1838),(3386,1917),(3372,1877),(3413,1838),(3496,1969),(3537,1930),(3509,1891),(3523,1838),(3592,1825),
    (3660,1891),(3729,1891),(3770,1864),(3798,1904),(3743,1799),(3784,1760),(3702,1733),(3633,1733),(3592,1733),(3907,1851),
    (4017,1891),(4072,1812),(4113,1773),(4155,1786),(4209,1825),(4196,1864),(4237,1877),(4264,1838),(4305,1825),(4347,1812),
    (4374,1838),(4415,1825),(4456,1838),(4484,1904),(4511,1812),(4566,1812),(4621,1825),(4649,1760),(4676,1733),(4731,1786),
    (4813,1786),(4896,1851),(4951,1786),(5033,1733),(4017,1733),(4058,1760),(3496,1733),(3331,1786),
]

rev_bot = [
    (10,1668),(10,1602),(10,1524),(10,1471),(37,1511),(161,1471),(257,1445),(339,1694),(394,1668),(449,1681),
    (504,1668),(545,1641),(573,1602),(531,1563),(477,1576),(422,1589),(367,1576),(312,1589),(298,1641),(682,1694),
    (724,1681),(765,1694),(916,1694),(943,1628),(929,1537),(902,1511),(888,1458),(916,1406),(971,1380),(1012,1353),
    (1039,1327),(1067,1301),(1094,1275),(1122,1249),(1149,1223),(669,1484),(682,1458),(765,1445),(806,1406),(477,1484),
    (504,1458),(490,1419),(435,1432),(339,1445),(394,1327),(1053,1615),(1122,1602),(1163,1615),(1218,1681),(1273,1668),
    (1328,1694),(1382,1668),(1437,1694),(1410,1615),(1341,1615),(1273,1563),(1245,1511),(1218,1471),(1273,1458),(1328,1484),
    (1382,1511),(1451,1524),(1492,1458),(1547,1458),(1629,1615),(1602,1694),(1616,1511),(1657,1471),(1080,1458),(339,1236),
    (367,1196),(394,1170),(490,1223),(531,1223),(559,1236),(614,1183),(682,1144),(312,1144),(353,1118),(380,1092),
    (435,1092),(477,1079),(531,1066),(573,1092),(614,1066),(751,1118),(779,1066),(833,1079),(888,1157),(916,1144),
    (943,1170),(957,1223),(971,1079),(1053,1079),(1135,1092),(1218,1157),(1300,1118),(1382,1144),(1437,1196),(1492,1223),
    (1575,1209),(1602,1170),(1657,1170),(1629,1249),(1533,1275),(1602,1340),(1547,1406),(10,1170),(0,1131),(24,1052),
    (37,961),(106,1105),(120,1026),(175,1026),(230,1118),(284,1039),(394,1013),(422,961),(463,974),(504,1013),
    (518,935),(545,961),(614,974),(669,935),(737,1013),(806,1013),(861,1026),(902,1000),(957,1026),(1026,1013),
    (1080,1026),(1122,1000),(1163,1013),(1245,1066),(1341,1013),(1437,1026),(1533,1026),(1602,1052),(1671,1052),(10,830),
    (10,778),(24,725),(24,673),(24,620),(10,568),(37,516),(24,463),(79,424),(106,568),(106,503),
    (92,817),(175,843),(257,935),(257,817),(312,856),(353,856),(408,830),(449,882),(477,908),(504,856),
    (531,830),(586,817),(682,817),(710,843),(751,843),(861,869),(902,882),(943,856),(971,804),(1026,817),
    (1053,869),(1108,882),(1163,948),(1204,856),(1231,935),(1314,895),(1410,882),(1492,882),(1602,856),(1629,935),
    (1671,908),(312,751),(367,712),(394,738),(422,686),(367,647),(477,712),(531,725),(518,686),(573,647),
    (243,660),(312,581),(394,568),(353,503),(408,542),(449,490),(463,450),(504,437),(559,411),(545,359),
    (628,450),(655,411),(669,581),(696,581),(586,568),(751,411),(888,712),(916,673),(929,620),(902,568),
    (943,568),(861,516),(833,490),(888,437),(916,385),(902,359),(998,437),(1026,411),(1039,359),(1080,411),
    (1108,359),(1080,476),(1108,568),(1149,542),(1190,503),(1231,516),(1204,620),(1163,673),(1108,725),(1163,764),
    (1204,804),(1245,778),(1273,725),(1300,673),(1328,699),(1355,751),(1382,725),(1410,778),(1465,725),(1478,673),
    (1437,620),(1410,568),(1382,542),(1451,490),(1492,463),(1533,529),(1575,594),(1602,568),(1602,738),(1616,490),
    (1657,463),(1629,359),(1520,359),(1437,385),(1382,411),(1328,437),(1286,411),(1245,385),(1218,306),(1245,267),
    (1314,215),(1341,254),(1437,241),(1478,254),(1547,215),(1671,293),(257,437),(312,411),(367,411),(435,359),
    (380,228),(449,123),(422,45),(531,267),(614,18),(394,45),(504,18),(120,5),(696,136),(861,97),
    (888,45),(916,149),(971,175),(943,123),(957,280),(1039,398),(1245,123),(1300,97),(1273,45),(1341,45),
    (1492,45),(1451,97),(1602,149),(1382,18),
    (1698,1694),(1753,1668),(1808,1694),(1863,1707),(1904,1668),(1945,1694),(2000,1681),(2055,1707),(2110,1681),(2165,1694),
    (2192,1641),(2219,1589),(2274,1615),(2302,1668),(2357,1641),(2384,1563),(2467,1668),(2521,1707),(2576,1681),(2631,1707),
    (2714,1694),(2521,1615),(2576,1563),(2617,1511),(2686,1524),(2659,1471),(2549,1484),(2494,1511),(2467,1445),(2412,1393),
    (2343,1432),(2302,1511),(2274,1537),(2192,1471),(2151,1458),(2096,1445),(2055,1484),(2000,1511),(1945,1524),(1918,1484),
    (1863,1497),(1808,1524),(1753,1511),(1725,1471),(1684,1458),(1670,1602),(1753,1380),(1808,1327),(1780,1275),(1725,1249),
    (1698,1275),(1753,1196),(1808,1170),(1863,1196),(1918,1223),(1945,1144),(1986,1170),(2027,1196),(2055,1144),(2014,1092),
    (1972,1052),(1918,1039),(1876,1092),(1808,1092),(1753,1066),(1698,1039),(1670,961),(1725,987),(1780,1000),(1835,961),
    (1863,882),(1808,869),(1753,830),(1725,778),(1698,725),(1684,673),(1753,699),(1698,594),(1725,542),(1698,490),
    (1753,516),(1808,411),(1670,437),(2137,1249),(2165,1196),(2247,1236),(2302,1196),(2329,1157),(2274,1157),(2384,1275),
    (2302,1327),(2192,1301),(2110,1157),(2137,1092),(2123,1039),(2082,987),(2110,935),(2055,908),(2096,856),(2137,817),
    (2068,804),(2027,778),(2000,738),(1972,673),(1945,620),(1918,568),(1904,516),(1972,555),(2027,568),(2055,620),
    (2096,647),(2137,673),(2192,699),(2247,673),(2288,647),(2302,594),(2247,542),(2192,516),(2137,516),(2082,490),
    (2027,490),(1986,463),(1945,411),(1918,359),(1972,332),(2027,359),(2082,411),(2123,437),(2302,882),(2329,817),
    (2357,778),(2288,778),(2412,856),(2467,725),(2521,725),(2494,673),(2439,647),(2549,673),(2590,620),(2617,594),
    (2631,542),(2576,516),(2521,490),(2549,437),(2604,437),(2645,411),(2467,568),(2412,516),(2467,490),(2549,1223),
    (2576,1196),(2604,1236),(2659,1223),(2494,1196),(2508,1157),(2631,1079),(2672,1039),(2700,1013),(2727,987),(2604,987),
    (2604,935),(2590,882),(2631,830),(2672,856),(2686,817),(2700,778),(2645,725),(2741,778),(2686,673),(2906,1641),
    (2961,1668),(3043,1668),(3070,1563),(3125,1537),(3153,1484),(3180,1537),(3235,1589),(3290,1615),(3317,1668),(3345,1563),
    (3290,1511),(3235,1458),(3016,1484),(2933,1484),(2878,1458),(2851,1511),(2933,1563),(2933,1249),(2961,1196),(2933,1144),
    (2961,1092),(3016,1066),(3043,1118),(3070,1170),(3098,1223),(3043,1262),(3153,1249),(3180,1196),(3235,1170),(3263,1118),
    (3290,1092),(3317,1039),(3345,1013),(3276,1223),(3331,1327),(2906,1039),(2961,1013),(3016,987),(3043,935),(3084,908),
    (3125,935),(3180,935),(3235,935),(3263,882),(3317,882),(3290,830),(3235,778),(3180,751),(3125,778),(3070,725),
    (3016,751),(2961,725),(2933,673),(2961,620),(3016,594),(3070,620),(3125,594),(3166,568),(3208,516),(3235,490),
    (3290,463),(3345,411),(3290,385),(3235,411),(3180,437),(3125,411),(3070,359),(3016,359),(2961,385),(2906,411),
    (2919,332),(2988,437),(3317,725),(3345,647),(3290,620),(2192,346),(2219,306),(2247,280),(2274,254),(2302,228),
    (2329,202),(2357,175),(2384,149),(2412,123),(2439,97),(2467,71),(2494,58),(2521,97),(2576,123),(2590,228),
    (2549,254),(2494,202),(2467,162),(2384,359),(2412,306),(2343,293),(2302,411),(2082,254),(2055,162),(2027,149),
    (2000,215),(1972,149),(1945,97),(1753,254),(1725,215),(1698,162),(1712,71),(2027,45),(2068,5),(2137,84),
    (2165,45),(2219,149),(2247,97),(2206,202),(2672,18),(2727,31),(2768,280),(2906,71),(2961,45),(3043,175),
    (3125,228),(3153,254),(3235,149),(3290,123),(3166,332),(3290,254),
    (3509,1707),(3413,1641),(3372,1550),(3496,1537),(3551,1511),(3592,1602),(3688,1615),(3743,1668),(3770,1694),(3825,1668),
    (3880,1641),(3921,1628),(3976,1655),(3866,1602),(3798,1576),(3756,1537),(3688,1484),(3660,1458),(3839,1458),(3853,1432),
    (3866,1393),(3962,1432),(3990,1458),(4072,1694),(4127,1681),(4155,1641),(4182,1694),(4237,1668),(4292,1694),(4347,1668),
    (4127,1589),(4155,1537),(4182,1497),(4209,1471),(4237,1458),(4100,1563),(4292,1615),(4333,1628),(4456,1524),(4470,1471),
    (4484,1497),(4539,1458),(4566,1668),(4621,1668),(4649,1615),(4676,1563),(4690,1511),(4704,1458),(4731,1406),(4772,1432),
    (4553,1537),(4511,1602),(4978,1694),(5033,1681),(4992,1615),(5047,1576),(4978,1484),(5047,1471),(4992,1393),(3400,1419),
    (3441,1249),(3482,1223),(3496,1170),(3523,1118),(3372,1144),(3331,1196),(3468,1131),(3715,1223),(3756,1196),(3784,1209),
    (3825,1249),(3853,1183),(3825,1144),(3880,1157),(3907,1209),(3660,1066),(3743,1039),(3770,1052),(3853,1052),(3894,987),
    (3866,974),(3578,1039),(3592,974),(3551,948),(3496,882),(3509,830),(3482,791),(3468,935),(3386,935),(3372,869),
    (3331,856),(3990,974),(3962,935),(3990,882),(3976,843),(3935,856),(4196,1236),(4237,1157),(4278,1157),(4319,1196),
    (4374,1183),(4429,1196),(4470,1170),(4511,1183),(4553,1157),(4594,1183),(4649,1196),(4704,1209),(4717,1183),(4717,1118),
    (4539,1092),(4621,1052),(4649,1026),(4676,1026),(4635,948),(4704,935),(4731,882),(4649,935),(4978,1157),(5047,1066),
    (4978,1039),(4827,987),(4813,817),(4827,778),(4758,961),(4649,908),(4992,974),(4072,1118),(4100,1170),(4072,1052),
    (4141,1066),(4168,1092),(4237,1092),(4237,1052),(4292,1052),(4347,1066),(4360,1013),(4347,961),(4333,908),(4347,869),
    (4374,817),(4360,778),(4347,738),(4333,673),(4319,620),(4305,568),(4292,516),(4278,463),(4264,424),(4237,385),
    (4182,346),(4209,293),(4155,306),(4127,267),(4155,882),(4182,908),(4209,856),(4237,882),(4127,817),(4086,804),
    (4155,751),(4072,725),(4100,699),(4155,673),(4182,620),(4209,568),(4251,516),(4155,542),(4141,490),(4155,450),
    (4072,568),(4100,620),(4429,699),(4443,594),(4456,542),(4415,843),(4443,935),(4511,935),(4566,830),(4607,738),
    (4635,673),(4621,620),(4649,568),(4649,516),(4676,490),(4704,463),(4731,437),(4758,424),(4813,463),(4854,490),
    (4923,450),(4978,437),(5005,411),(4937,686),(5005,725),(5047,764),(5047,673),(4978,843),(4539,411),(4621,398),
    (4635,359),(3606,673),(3633,751),(3688,725),(3743,725),(3798,738),(3839,738),(3894,738),(3866,647),(3811,647),
    (3756,660),(3715,686),(3606,594),(3578,568),(3907,503),(3880,490),(3633,450),(3496,437),(3331,699),(3331,490),
    (3372,372),(3688,372),(3743,372),(3798,385),(3853,385),(3907,359),(3990,359),(4017,293),(4031,254),(3976,254),
    (3990,202),(3990,149),(3962,97),(3990,58),(3907,58),(3866,71),(3825,45),(3798,31),(3743,97),(3688,228),
    (3715,241),(3523,5),(4017,84),(4072,45),(4127,215),(4182,241),(4237,241),(4264,162),(4237,123),(4347,149),
    (4347,18),(4388,45),(4429,149),(4456,215),(4484,97),(4539,58),(4594,45),(4676,18),(4731,332),(4676,385),
    (4868,254),(4951,97),(5047,18),
]

axis_ticks = [0, 1000000, 2000000, 3000000, 4000000, 5000000, 6000000]


def to_bp(hits):
    xs = [h[0] * 1000 for h in hits]
    ys = [h[1] * 1000 for h in hits]
    return xs, ys


fwd_x, fwd_y = to_bp(fwd_top + fwd_mid + fwd_bot)
rev_x, rev_y = to_bp(rev_top + rev_mid + rev_bot)

fig = go.Figure()
fig.add_trace(go.Scatter(x=fwd_x, y=fwd_y, mode="markers", name="FWD",
                         marker=dict(color="#ff0000", size=11, line=dict(width=0)),
                         cliponaxis=False))
fig.add_trace(go.Scatter(x=rev_x, y=rev_y, mode="markers", name="REV",
                         marker=dict(color="#0a84ff", size=11, line=dict(width=0)),
                         cliponaxis=False))

# dotted frame on the plot edges (grid lines at the range ends get dropped)
grid_line = dict(color="#a0a0a0", width=1, dash="dot")
for edge in (dict(x0=0, x1=0, y0=0, y1=1), dict(x0=1, x1=1, y0=0, y1=1),
             dict(x0=0, x1=1, y0=0, y1=0), dict(x0=0, x1=1, y0=1, y1=1)):
    fig.add_shape(type="line", xref="paper", yref="paper", line=grid_line, layer="below", **edge)

tick_font = dict(family="DejaVu Sans Mono", size=8, color="black")
fig.update_layout(
    width=800, height=800,
    margin=dict(l=55, r=15, t=10, b=26),
    paper_bgcolor="white", plot_bgcolor="white",
    showlegend=False,
    font=tick_font,
    xaxis=dict(range=[0, 6000000], tickvals=axis_ticks, ticktext=[str(t) for t in axis_ticks],
               showgrid=True, gridcolor="#a0a0a0", griddash="dot", gridwidth=1,
               zeroline=False, showline=False, ticks="", tickfont=tick_font,
               title=dict(text="REF", font=tick_font, standoff=3), automargin=False),
    yaxis=dict(range=[0, 6000000], tickvals=axis_ticks, ticktext=[str(t) for t in axis_ticks],
               showgrid=True, gridcolor="#a0a0a0", griddash="dot", gridwidth=1,
               zeroline=False, showline=False, ticks="outside", ticklen=6, tickcolor="white",
               tickfont=tick_font,
               title=dict(text="Xorb_juglandis_CFBP8253", font=tick_font, standoff=4), automargin=False),
)

# the page's default body margin would push the figure 8px off the window
fig.write_html("out.html", config={"displayModeBar": False},
               post_script="document.body.style.margin='0';")
